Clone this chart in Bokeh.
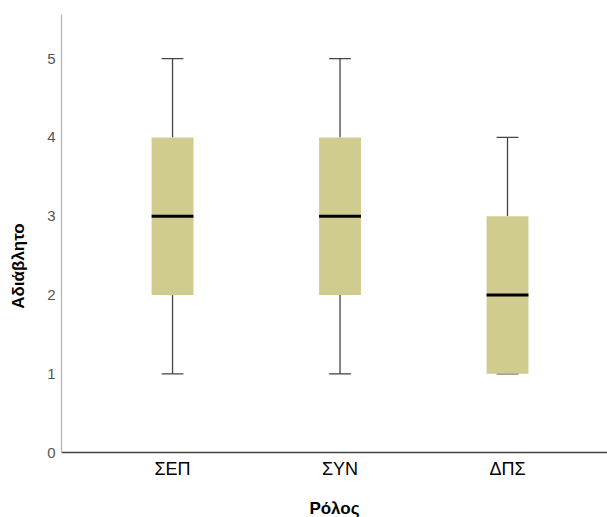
from bokeh.plotting import figure
from bokeh.models import FixedTicker, Range1d
from bokeh.embed import file_html
from bokeh.resources import INLINE

categories = ["ΣΕΠ", "ΣΥΝ", "ΔΠΣ"]
lower = [1, 1, 1]
q1 = [2, 2, 1]
median = [3, 3, 2]
q3 = [4, 4, 3]
upper = [5, 5, 4]
y_ticks = [0, 1, 2, 3, 4, 5]

xs = list(range(len(categories)))
box_w = 0.25
cap_w = 0.13

p = figure(width=607, height=517, output_backend="svg", toolbar_location=None,
           x_range=Range1d(-0.663, 2.597), y_range=Range1d(-0.823, 5.56),
           min_border_left=61, min_border_right=0, min_border_top=14, min_border_bottom=0)
p.outline_line_color = None
p.grid.grid_line_color = None
p.background_fill_color = "white"
p.border_fill_color = "white"

# whiskers
p.segment(x0=xs, y0=q3, x1=xs, y1=upper, line_color="#444444", line_width=1.3)
p.segment(x0=xs, y0=lower, x1=xs, y1=q1, line_color="#444444", line_width=1.3)
p.segment(x0=[x - cap_w / 2 for x in xs], y0=upper, x1=[x + cap_w / 2 for x in xs], y1=upper,
          line_color="#444444", line_width=1.3)
p.segment(x0=[x - cap_w / 2 for x in xs], y0=lower, x1=[x + cap_w / 2 for x in xs], y1=lower,
          line_color="#444444", line_width=1.3)
# boxes
p.vbar(x=xs, width=box_w, bottom=q1, top=q3, fill_color="#d0cb8f", line_color=None)
# medians
p.segment(x0=[x - box_w / 2 for x in xs], y0=median, x1=[x + box_w / 2 for x in xs], y1=median,
          line_color="black", line_width=3)

font = "Liberation Sans"
p.xaxis.ticker = FixedTicker(ticks=xs)
p.xaxis.major_label_overrides = {i: c for i, c in enumerate(categories)}
p.xaxis.fixed_location = 0
p.yaxis.ticker = FixedTicker(ticks=y_ticks)
p.yaxis.bounds = (0, 5.56)

for ax in (p.xaxis, p.yaxis):
    ax.major_tick_line_color = None
    ax.minor_tick_line_color = None
    ax.major_label_text_font = font
    ax.axis_label_text_font = font
    ax.axis_label_text_font_style = "bold"
    ax.axis_label_text_color = "black"
    ax.axis_label_text_font_size = "17px"

p.xaxis.axis_line_color = "#444444"
p.xaxis.axis_line_width = 1.3
p.yaxis.axis_line_color = "#b5b5b5"
p.yaxis.axis_line_width = 1.3

p.xaxis.major_label_text_font_size = "18px"
p.xaxis.major_label_text_color = "black"
p.xaxis.major_label_standoff = 0
p.xaxis.axis_label = "Ρόλος"
p.xaxis.axis_label_standoff = 17

p.yaxis.major_tick_out = 0
p.yaxis.major_tick_in = 0
p.yaxis.major_label_text_font_size = "15px"
p.yaxis.major_label_text_color = "#555555"
p.yaxis.major_label_standoff = 6
p.yaxis.axis_label = "Αδιάβλητο"
p.yaxis.axis_label_standoff = 16

open("out.html", "w").write(file_html(p, INLINE))
